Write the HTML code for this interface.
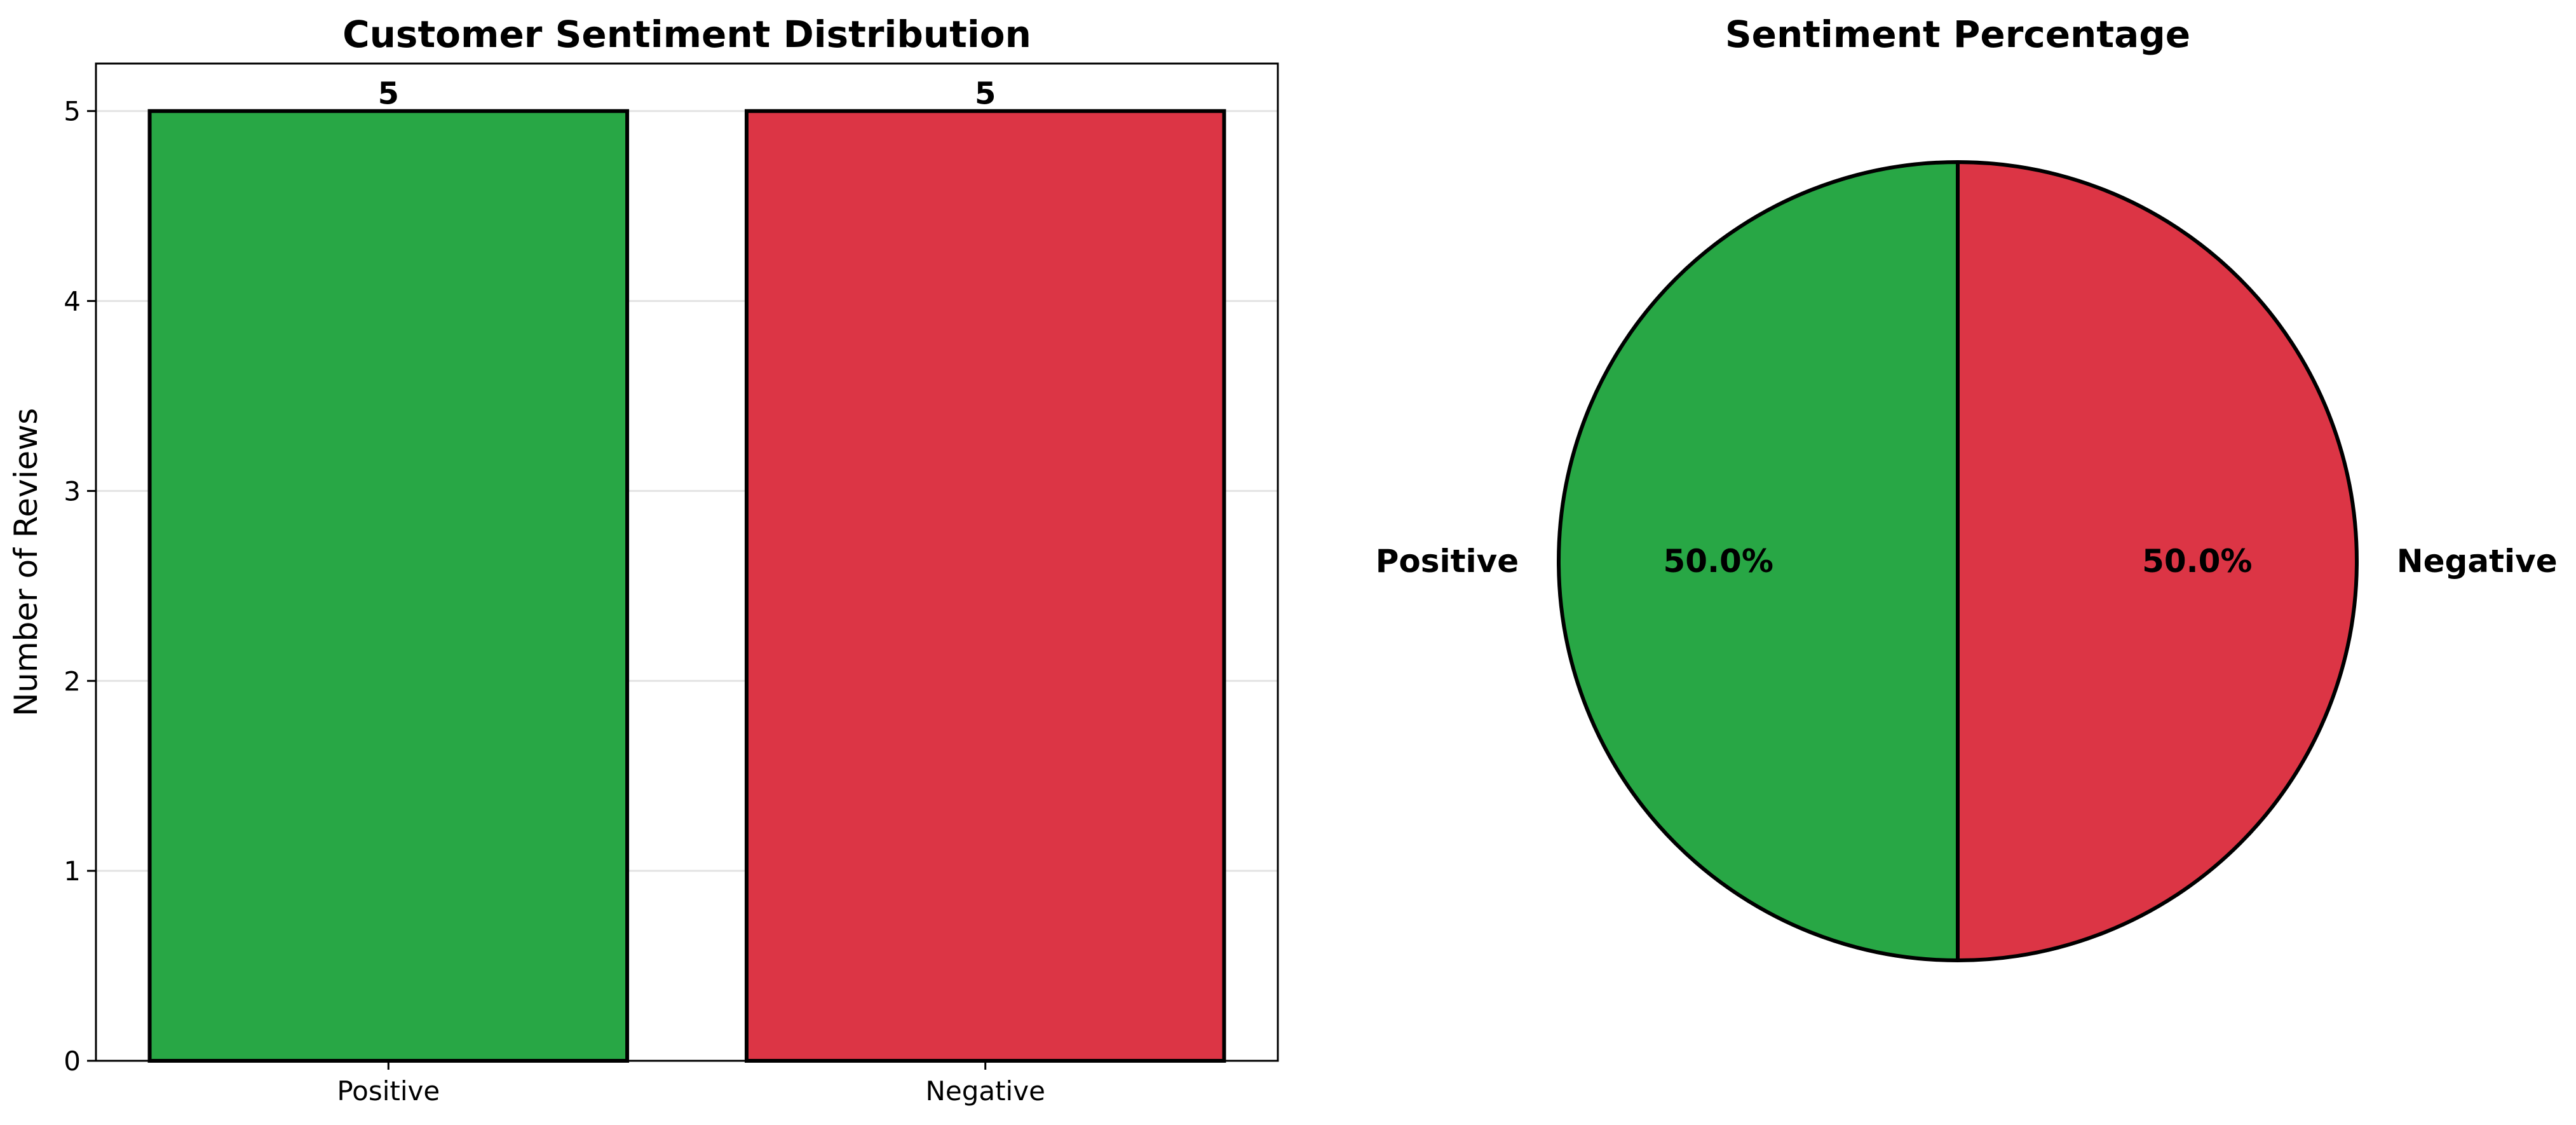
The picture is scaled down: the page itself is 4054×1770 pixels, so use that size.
<!DOCTYPE html>
<html><head><meta charset="utf-8"><style>
html,body{margin:0;padding:0;background:#fff;}
svg{display:block;font-family:"DejaVu Sans","Liberation Sans",sans-serif;}
</style></head><body>
<svg id="c" width="4054" height="1770" viewBox="0 0 4054 1770" xmlns="http://www.w3.org/2000/svg"></svg>
<script>
const categories = ["Positive", "Negative"];
const counts = [5, 5];
const colors = ["#28a745", "#dc3545"];
const yTicks = [0, 1, 2, 3, 4, 5];

const NS = "http://www.w3.org/2000/svg";
const svg = document.getElementById("c");
function mk(tag, attrs, parent) {
  const e = document.createElementNS(NS, tag);
  for (const k in attrs) e.setAttribute(k, attrs[k]);
  (parent || svg).appendChild(e);
  return e;
}
const axL = 151, axR = 2011, axT = 100, axB = 1669;
const yMax = 5.25, xMin = -0.49, xMax = 1.49;
const yS = v => axB - v / yMax * (axB - axT);
const xS = v => axL + (v - xMin) / (xMax - xMin) * (axR - axL);

const barGroup = mk("g", {});



yTicks.forEach(t => {
  const g = mk("line", {x1: axL, x2: axR, y1: yS(t), y2: yS(t), stroke: "#e3e3e3", "stroke-width": 3}, barGroup);
  
  
  mk("line", {x1: axL - 14, x2: axL, y1: yS(t), y2: yS(t), stroke: "#000", "stroke-width": 3}, barGroup);
  const tl = mk("text", {x: axL - 24, y: yS(t) + 15, "text-anchor": "end", "font-size": 42}, barGroup);
  tl.textContent = t;
  
  
});

categories.forEach((c, i) => {
  const x0 = xS(i - 0.4), x1 = xS(i + 0.4);
  const r = mk("rect", {x: x0, y: yS(counts[i]), width: x1 - x0, height: yS(0) - yS(counts[i]), fill: colors[i], stroke: "#000", "stroke-width": 6}, barGroup);
  
  
  const v = mk("text", {x: xS(i), y: yS(counts[i]) - 11, "text-anchor": "middle", "font-size": 48, "font-weight": "bold"}, barGroup);
  v.textContent = counts[i];
  
  
  mk("line", {x1: xS(i), x2: xS(i), y1: axB, y2: axB + 14, stroke: "#000", "stroke-width": 3}, barGroup);
  const xl = mk("text", {x: xS(i), y: axB + 62, "text-anchor": "middle", "font-size": 42}, barGroup);
  xl.textContent = c;
  
  
});

const frame = mk("rect", {x: axL, y: axT, width: axR - axL, height: axB - axT, fill: "none", stroke: "#000", "stroke-width": 3}, barGroup);



const yl = mk("text", {x: 0, y: 0, "text-anchor": "middle", "font-size": 50, transform: "translate(58," + ((axT + axB) / 2) + ") rotate(-90)"}, barGroup);
yl.textContent = "Number of Reviews";



const t1 = mk("text", {x: (axL + axR) / 2, y: 74, "text-anchor": "middle", "font-size": 58, "font-weight": "bold"});
t1.textContent = "Customer Sentiment Distribution";



const cx = 3081, cy = 883, R = 628;
const pieGroup = mk("g", {});


const total = counts.reduce((a, b) => a + b, 0);
let ang = 90;
counts.forEach((v, i) => {
  const sweep = v / total * 360;
  const a0 = ang * Math.PI / 180, a1 = (ang + sweep) * Math.PI / 180;
  const p0 = [cx + R * Math.cos(a0), cy - R * Math.sin(a0)];
  const p1 = [cx + R * Math.cos(a1), cy - R * Math.sin(a1)];
  const large = sweep > 180 ? 1 : 0;
  const d = `M${cx},${cy} L${p0[0]},${p0[1]} A${R},${R} 0 ${large} 0 ${p1[0]},${p1[1]} Z`;
  const s = mk("path", {d: d, fill: colors[i], stroke: "#000", "stroke-width": 6, "stroke-linejoin": "round"}, pieGroup);
  
  
  const mid = (ang + sweep / 2) * Math.PI / 180;
  const lx = cx + 1.1 * R * Math.cos(mid), ly = cy - 1.1 * R * Math.sin(mid);
  const anchor = Math.cos(mid) < -0.01 ? "end" : (Math.cos(mid) > 0.01 ? "start" : "middle");
  const lab = mk("text", {x: lx, y: ly + 17, "text-anchor": anchor, "font-size": 50, "font-weight": "bold"}, pieGroup);
  lab.textContent = categories[i];
  
  
  const px = cx + 0.6 * R * Math.cos(mid), py = cy - 0.6 * R * Math.sin(mid);
  const pct = mk("text", {x: px, y: py + 17, "text-anchor": "middle", "font-size": 50, "font-weight": "bold"}, pieGroup);
  pct.textContent = (v / total * 100).toFixed(1) + "%";
  
  
  ang += sweep;
});
const t2 = mk("text", {x: cx, y: 74, "text-anchor": "middle", "font-size": 58, "font-weight": "bold"});
t2.textContent = "Sentiment Percentage";


</script>
</body></html>
